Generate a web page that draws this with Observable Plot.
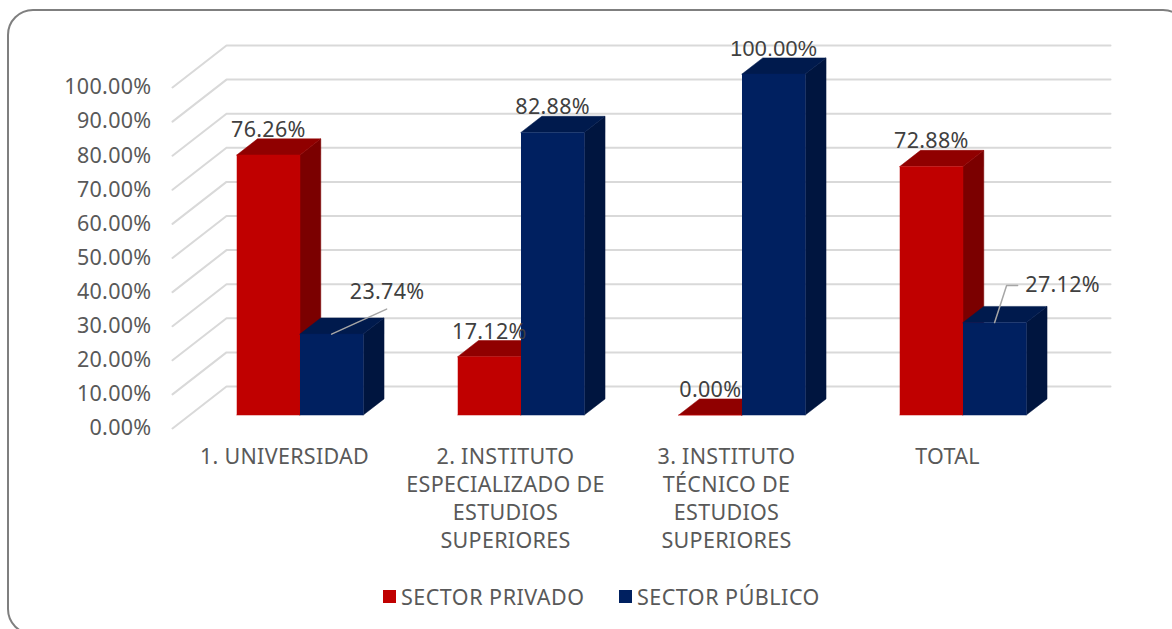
<!DOCTYPE html>
<html><head><meta charset="utf-8">
<script src="https://cdn.jsdelivr.net/npm/d3@7"></script>
<script src="https://cdn.jsdelivr.net/npm/@observablehq/plot@0.6"></script>
<style>
html,body{margin:0;padding:0;background:#fff;width:1172px;height:629px;overflow:hidden;font-family:"Noto Sans",sans-serif}
#frame{position:absolute;left:7px;top:9px;width:1182px;height:626px;border:2px solid #7f7f7f;border-radius:26px;box-sizing:border-box}
#chart{position:absolute;left:0;top:0}
#legend{position:absolute;left:0;top:583px;width:1172px;height:28px;color:#595959;font-size:21.5px;line-height:28px;letter-spacing:.5px}
#legend span{position:absolute;top:0;white-space:nowrap}
#legend i{position:absolute;top:7px;width:13px;height:13px}
</style></head><body>
<div id="frame"></div><div id="chart"></div><div id="legend"></div>
<script>
const categories = ["1. UNIVERSIDAD", "2. INSTITUTO\nESPECIALIZADO DE\nESTUDIOS\nSUPERIORES", "3. INSTITUTO\nTÉCNICO DE\nESTUDIOS\nSUPERIORES", "TOTAL"];
const seriesNames = ["SECTOR PRIVADO", "SECTOR PÚBLICO"];
const privado = [76.26, 17.12, 0, 72.88];
const publico = [23.74, 82.88, 100, 27.12];
const yTicks = [0,10,20,30,40,50,60,70,80,90,100];
const faceColors = [
  {front:"#c00000", side:"#7b0000", top:"#900000"},
  {front:"#002060", side:"#00153f", top:"#001a4d"}
];
const FONT = '"Noto Sans",sans-serif';
const FS = 21.5;

// scale geometry (px per unit)
const x0=172, catW=221, y0=428, pctH=3.41;
const depthX=54/catW, depthY=42/pctH;   // oblique projection of full floor depth, in data units
const barStart=0.2125, barW=0.2862, barD0=0.32, barDepth=0.385;
const P=(c,v,d=0)=>({x:c+d*depthX, y:v+d*depthY});
const off=(p,dx,dy)=>({x:p.x+dx/catW, y:p.y-dy/pctH});

// walls
const wall = yTicks.flatMap(t=>[
  {...P(0,t,0),t},{...P(0,t,1),t},{...P(4,t,1),t}
]);
// bars: painter's order
const faces=[]; const labels=[]; 
const vals=[privado,publico];
categories.forEach((_,i)=>{
  vals.forEach((arr,s)=>{
    const v=arr[i], a=i+barStart+s*barW, b=a+barW, d0=barD0, d1=barD0+barDepth, col=faceColors[s];
    const add=(name,fill,pts)=>pts.forEach(p=>faces.push({...p,id:`${i}-${s}-${name}`,fill}));
    add("side",col.side,[P(b,0,d0),P(b,0,d1),P(b,v,d1),P(b,v,d0)]);
    add("top",col.top,[P(a,v,d0),P(a,v,d1),P(b,v,d1),P(b,v,d0)]);
    add("front",col.front,[P(a,0,d0),P(b,0,d0),P(b,v,d0),P(a,v,d0)]);
    labels.push({anchor:P((a+b)/2,v,d0),v,i,s});
  });
});
const labelOffset=(l)=>{
  if(l.i===0&&l.s===1) return [55.5,-42];
  if(l.i===3&&l.s===1) return [68,-37];
  return [0,-25];
};
const labelData=labels.map(l=>{const [dx,dy]=labelOffset(l);return {...off(l.anchor,dx,dy),text:l.v.toFixed(2)+"%",v:l.v}});
const a1=labels.find(l=>l.i===0&&l.s===1).anchor, a2=labels.find(l=>l.i===3&&l.s===1).anchor;
const leaders=[
  {...a1,k:0},{...off(a1,55,-25),k:0},
  {...a2,k:1},{...off(a2,12,-37),k:1},{...off(a2,23,-37),k:1}
];

const plot=Plot.plot({
  width:1172,height:575,
  marginLeft:x0,marginRight:1172-(x0+4*catW),marginTop:y0-100*pctH,marginBottom:575-y0,
  style:{background:"transparent",fontFamily:FONT,overflow:"visible",letterSpacing:"0.3px"},
  x:{domain:[0,4],axis:null},
  y:{domain:[0,100],axis:null},
  color:{type:"identity"},
  marks:[
    Plot.line(wall,{x:"x",y:"y",z:"t",stroke:"#d9d9d9",strokeWidth:2,curve:"linear"}),
    Plot.line(faces,{x:"x",y:"y",z:"id",fill:"fill",stroke:"fill",strokeWidth:0.5,curve:"linear"}),
    Plot.line(leaders,{x:"x",y:"y",z:"k",stroke:"#a6a6a6",strokeWidth:1.5,curve:"linear"}),
    Plot.axisY({ticks:yTicks,tickFormat:d=>d.toFixed(2)+"%",tickSize:0,tickPadding:21,fontSize:FS,color:"#595959",anchor:"left",label:null}),
    Plot.text(labelData.filter(d=>d.v<100),{x:"x",y:"y",text:"text",fontSize:FS,fill:"#404040"}),
    Plot.text(labelData.filter(d=>d.v===100),{x:"x",y:"y",text:"text",fontSize:FS,fill:"#404040",fontFamily:'"Liberation Sans"'}),
    Plot.text(categories,{x:(d,i)=>i+0.5,y:()=>0,dx:1.5,dy:15,text:d=>d,lineAnchor:"top",lineHeight:28.3/FS,fontSize:FS,fill:"#595959"})
  ]
});
document.getElementById("chart").append(plot);
const lg=document.getElementById("legend");
[[383,401],[619,637]].forEach(([sq,tx],s)=>{
  const i=document.createElement("i");i.style.left=sq+"px";i.style.background=faceColors[s].front;lg.append(i);
  const t=document.createElement("span");t.style.left=tx+"px";t.textContent=seriesNames[s];lg.append(t);
});
</script></body></html>
